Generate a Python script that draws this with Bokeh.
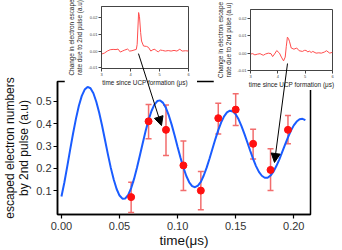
from bokeh.plotting import figure
from bokeh.models import (Range1d, ColumnDataSource, Whisker, TeeHead, Arrow, NormalHead,
                          FixedTicker, NumeralTickFormatter)
from bokeh.embed import file_html
from bokeh.resources import INLINE

FONT = "Liberation Sans"

# ---------------- main chart data ----------------
fit_t = [0.0, 0.0025, 0.005, 0.0075, 0.01, 0.0125, 0.015, 0.0175, 0.02, 0.0225,
         0.025, 0.0275, 0.03, 0.0325, 0.035, 0.0375, 0.04, 0.0425, 0.045, 0.0475,
         0.05, 0.0525, 0.055, 0.0575, 0.06, 0.0625, 0.065, 0.0675, 0.07, 0.0725,
         0.075, 0.0775, 0.08, 0.0825, 0.085, 0.0875, 0.09, 0.0925, 0.095, 0.0975,
         0.1, 0.1025, 0.105, 0.1075, 0.11, 0.1125, 0.115, 0.1175, 0.12, 0.1225,
         0.125, 0.1275, 0.13, 0.1325, 0.135, 0.1375, 0.14, 0.1425, 0.145, 0.1475,
         0.15, 0.1525, 0.155, 0.1575, 0.16, 0.1625, 0.165, 0.1675, 0.17, 0.1725,
         0.175, 0.1775, 0.18, 0.1825, 0.185, 0.1875, 0.19, 0.1925, 0.195, 0.1975,
         0.2, 0.2025, 0.205, 0.2075, 0.21]
fit_y = [0.078, 0.140, 0.212, 0.286, 0.358, 0.424, 0.481, 0.525, 0.553, 0.565,
         0.559, 0.537, 0.499, 0.450, 0.392, 0.329, 0.265, 0.205, 0.153, 0.111,
         0.082, 0.068, 0.069, 0.085, 0.115, 0.156, 0.206, 0.260, 0.316, 0.370,
         0.418, 0.458, 0.486, 0.502, 0.505, 0.494, 0.471, 0.437, 0.395, 0.348,
         0.298, 0.250, 0.206, 0.169, 0.141, 0.124, 0.119, 0.126, 0.143, 0.171,
         0.206, 0.247, 0.290, 0.333, 0.373, 0.407, 0.434, 0.452, 0.459, 0.456,
         0.443, 0.421, 0.391, 0.356, 0.319, 0.281, 0.245, 0.213, 0.187, 0.170,
         0.161, 0.161, 0.171, 0.188, 0.213, 0.242, 0.275, 0.308, 0.341, 0.370,
         0.394, 0.411, 0.421, 0.423, 0.417]

pt_t = [0.060, 0.075, 0.090, 0.105, 0.120, 0.135, 0.150, 0.165, 0.180, 0.195]
pt_y = [0.075, 0.412, 0.374, 0.216, 0.104, 0.426, 0.464, 0.312, 0.196, 0.374]
pt_hi = [0.141, 0.487, 0.485, 0.324, 0.189, 0.492, 0.534, 0.377, 0.290, 0.438]
pt_lo = [0.007, 0.334, 0.260, 0.104, 0.019, 0.356, 0.393, 0.245, 0.104, 0.312]

main_xticks = [0.0, 0.05, 0.10, 0.15, 0.20]
main_yticks = [0.1, 0.2, 0.3, 0.4, 0.5]

# ---------------- inset data ----------------
ins1_t = [3.00, 3.10, 3.20, 3.30, 3.40, 3.50, 3.57, 3.65, 3.72, 3.80,
          3.90, 3.97, 4.05, 4.12, 4.20, 4.23, 4.28, 4.31, 4.35, 4.38,
          4.45, 4.55, 4.62, 4.70, 4.77, 4.84, 4.90, 4.96, 5.03, 5.10,
          5.20, 5.30, 5.40, 5.50, 5.60, 5.70, 5.78, 5.90, 6.00]
ins1_y = [-0.0018, -0.0012, 0.0000, 0.0008, 0.0010, 0.0009, 0.0012, -0.0006, 0.0000, 0.0006,
          0.0012, 0.0000, 0.0002, 0.0006, 0.0010, 0.0040, 0.0230, 0.0205, 0.0110, 0.0060,
          0.0030, 0.0028, 0.0022, 0.0000, 0.0008, 0.0011, 0.0000, -0.0004, 0.0006, 0.0004,
          0.0000, 0.0003, 0.0000, 0.0004, 0.0000, 0.0011, 0.0000, 0.0002, 0.0000]

ins2_t = [3.00, 3.08, 3.16, 3.25, 3.35, 3.42, 3.47, 3.55, 3.65, 3.75,
          3.81, 3.88, 3.96, 4.06, 4.13, 4.21, 4.27, 4.31, 4.35, 4.39,
          4.43, 4.49, 4.59, 4.69, 4.78, 4.90, 4.97, 5.03, 5.10, 5.15,
          5.22, 5.28, 5.40, 5.50, 5.59, 5.70, 5.78, 5.90, 6.00]
ins2_y = [-0.0005, -0.0003, -0.0010, -0.0006, -0.0003, -0.0009, -0.0012, -0.0005, 0.0000, -0.0003,
          -0.0020, -0.0005, 0.0015, 0.0000, -0.0023, -0.0045, -0.0023, 0.0040, 0.0093, 0.0085,
          0.0066, 0.0030, 0.0023, 0.0030, 0.0014, 0.0010, 0.0016, 0.0016, 0.0007, 0.0012,
          0.0004, 0.0010, 0.0000, 0.0002, 0.0000, 0.0006, 0.0014, 0.0000, 0.0005]

ins_xticks = [3, 4, 5, 6]
ins_yticks = [-0.01, 0.0, 0.01, 0.02]

INSET_YLABEL = "Change in electron escape\nrate due to 2nd pulse (a.u)"
INSET_XLABEL = "time since UCP formation (\u03bcs)"

# arrows from the inset traces to the data points they refer to (main data units)
arrow1 = dict(x_start=0.0663, y_start=0.713, x_end=0.0861, y_end=0.393)
arrow2 = dict(x_start=0.1946, y_start=0.669, x_end=0.1834, y_end=0.229)


def place(fig, left, top, w, h):
    # absolute page position (window coordinates)
    fig.styles = {"position": "absolute", "left": f"{left}px", "top": f"{top}px",
                  "width": f"{w}px", "height": f"{h}px"}


# ---------------- main figure (axes / frame) ----------------
xr = Range1d(-0.0034, 0.2144)
yr = Range1d(-0.0067, 0.589)

MAIN_W, MAIN_H = 342, 250
B_L, B_R, B_T, B_B = 57, 32, 81, 35
MAIN_KW = dict(width=MAIN_W, height=MAIN_H, x_range=xr, y_range=yr,
               output_backend="svg", toolbar_location=None,
               min_border_left=B_L, min_border_right=B_R,
               min_border_top=B_T, min_border_bottom=B_B)


def style_main(fig, a):
    fig.xgrid.grid_line_color = None
    fig.ygrid.grid_line_color = None
    fig.xaxis.ticker = FixedTicker(ticks=main_xticks)
    fig.xaxis.formatter = NumeralTickFormatter(format="0.00")
    fig.yaxis.ticker = FixedTicker(ticks=main_yticks)
    fig.xaxis.axis_label = "time(\u03bcs)"
    fig.yaxis.axis_label = "escaped electron numbers\nby 2nd pulse (a.u)"
    for ax in fig.axis:
        ax.major_tick_out = 4
        ax.major_tick_in = 0
        ax.minor_tick_line_color = None
        ax.axis_line_width = 1.5
        ax.major_tick_line_width = 1.2
        ax.axis_line_color = "black"
        ax.major_tick_line_color = "black"
        ax.axis_line_alpha = a
        ax.major_tick_line_alpha = a
        ax.major_label_text_font = FONT
        ax.major_label_text_font_size = "11px"
        ax.major_label_text_color = "#333333"
        ax.major_label_text_alpha = a
        ax.axis_label_text_font = FONT
        ax.axis_label_text_font_style = "normal"
        ax.axis_label_text_color = "#111111"
        ax.axis_label_text_alpha = a
    fig.xaxis.major_label_standoff = 3
    fig.xaxis.axis_label_standoff = 0
    fig.xaxis.axis_label_text_font_size = "13.5px"
    fig.yaxis.major_label_standoff = 2
    fig.yaxis.axis_label_standoff = 2
    fig.yaxis.axis_label_text_font_size = "12px"
    fig.yaxis.axis_label_text_line_height = 1.0


main = figure(**MAIN_KW)
style_main(main, 1.0)
main.outline_line_color = "black"
main.outline_line_width = 1.5
main.background_fill_color = "white"
main.border_fill_color = "white"
place(main, 0, 0, MAIN_W, MAIN_H)


# ---------------- insets ----------------
def make_inset(left, top, w, h, mbl, mbr, mbt, mbb, yrange, xs, ys):
    f = figure(width=w, height=h, x_range=Range1d(3, 6), y_range=Range1d(*yrange),
               output_backend="svg", toolbar_location=None,
               min_border_left=mbl, min_border_right=mbr,
               min_border_top=mbt, min_border_bottom=mbb)
    f.background_fill_color = "white"
    f.border_fill_color = "white"
    f.outline_line_color = "#444444"
    f.outline_line_width = 1
    f.xgrid.grid_line_color = None
    f.ygrid.grid_line_color = None
    f.line(xs, ys, line_color="#ff4d4d", line_width=1)
    f.xaxis.ticker = FixedTicker(ticks=ins_xticks)
    f.yaxis.ticker = FixedTicker(ticks=ins_yticks)
    f.yaxis.formatter = NumeralTickFormatter(format="0.00")
    f.xaxis.axis_label = INSET_XLABEL
    f.yaxis.axis_label = INSET_YLABEL
    for ax in f.axis:
        ax.major_tick_out = 3
        ax.major_tick_in = 0
        ax.minor_tick_line_color = None
        ax.axis_line_color = "#444444"
        ax.major_tick_line_color = "#444444"
        ax.major_label_text_font = FONT
        ax.major_label_text_font_size = "4px"
        ax.major_label_text_color = "#444444"
        ax.major_label_standoff = 1
        ax.axis_label_text_font = FONT
        ax.axis_label_text_font_size = "6.4px"
        ax.axis_label_text_font_style = "normal"
        ax.axis_label_text_color = "#222222"
    f.xaxis.axis_label_standoff = 0
    f.yaxis.axis_label_standoff = 2
    place(f, left, top, w, h)
    return f


inset1 = make_inset(64, 0, 133, 88, 35, 9, 6, 16, (-0.0104, 0.0266), ins1_t, ins1_y)
inset2 = make_inset(213, 0, 129, 90, 37, 10, 9, 16, (-0.0101, 0.0254), ins2_t, ins2_y)

# ---------------- overlay with the data marks (same frame and ranges as main) ----------------
over = figure(**MAIN_KW)
style_main(over, 0.0)
over.outline_line_alpha = 0
over.background_fill_alpha = 0
over.border_fill_alpha = 0
place(over, 0, 0, MAIN_W, MAIN_H)

over.line(fit_t, fit_y, line_color="#1a5cff", line_width=2)

src = ColumnDataSource(dict(t=pt_t, y=pt_y, hi=pt_hi, lo=pt_lo))
ebar_color = "#f26d6d"
over.add_layout(Whisker(source=src, base="t", upper="hi", lower="lo",
                        line_color=ebar_color, line_width=1.5,
                        upper_head=TeeHead(size=6, line_color=ebar_color, line_width=1.5),
                        lower_head=TeeHead(size=6, line_color=ebar_color, line_width=1.5)))
over.scatter("t", "y", source=src, size=7, fill_color="#ff1010", line_color="#ff1010")

# ---------------- arrow layer: frame = whole canvas, ranges extended to match main's scale ----------------
sx = (MAIN_W - B_L - B_R) / (xr.end - xr.start)
sy = (MAIN_H - B_T - B_B) / (yr.end - yr.start)
arr_xr = Range1d(xr.start - B_L / sx, xr.end + B_R / sx)
arr_yr = Range1d(yr.start - B_B / sy, yr.end + B_T / sy)
arr = figure(width=MAIN_W, height=MAIN_H, x_range=arr_xr, y_range=arr_yr,
             output_backend="svg", toolbar_location=None,
             x_axis_location=None, y_axis_location=None,
             min_border_left=0, min_border_right=0, min_border_top=0, min_border_bottom=0)
arr.xgrid.grid_line_color = None
arr.ygrid.grid_line_color = None
arr.outline_line_alpha = 0
arr.background_fill_alpha = 0
arr.border_fill_alpha = 0
place(arr, 0, 0, MAIN_W, MAIN_H)
for a in (arrow1, arrow2):
    arr.add_layout(Arrow(end=NormalHead(size=9, fill_color="black", line_color="black"),
                         line_color="black", line_width=1, **a))

p = [main, inset1, inset2, over, arr]
open("out.html", "w").write(file_html(p, INLINE))
